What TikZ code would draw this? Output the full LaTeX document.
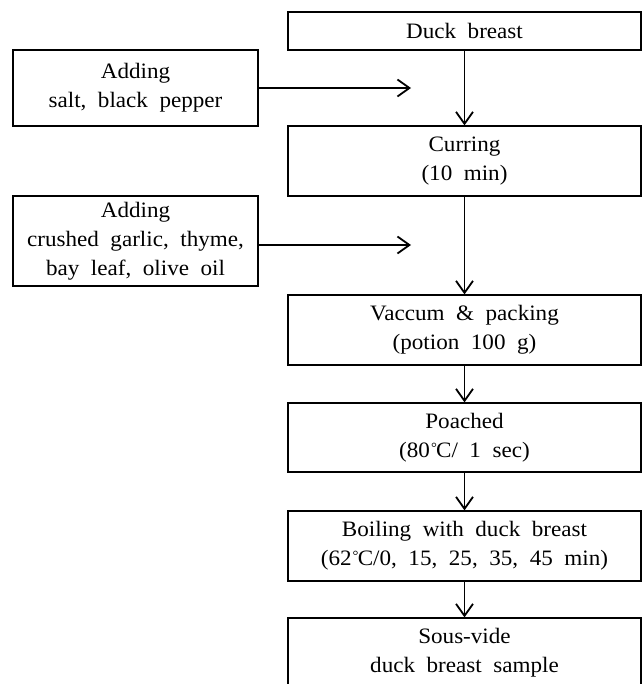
\documentclass[tikz,border=0pt]{standalone}
\usepackage{fontspec}
\setmainfont{Liberation Serif}[WordSpace=2.0,FakeStretch=1.05]
\usetikzlibrary{arrows.meta,positioning}
\tikzset{every picture/.style={line width=0.6pt}}
\tikzset{
    stepbox/.style={draw,rectangle,align=center,font=\fontsize{11pt}{14.5pt}\selectfont,minimum width=176.5pt,inner sep=0pt},
    addbox/.style={draw,rectangle,align=center,font=\fontsize{11pt}{14.5pt}\selectfont,minimum width=122.5pt,inner sep=0pt},
    flow/.style={-{Straight Barb[length=6pt,width=8.5pt]},line width=0.9pt}
}
\newcommand{\degC}{\kern0.5pt{\fontsize{7pt}{7pt}\selectfont\raisebox{2.6pt}{°}}\kern-0.4pt C}

\begin{document}
\begin{tikzpicture}[x=0.5pt,y=-0.5pt]
    \useasboundingbox (0,0) rectangle (642,684);

    % 공정 단계
    \node[stepbox,minimum height=19pt] (duck) at (464.5,31) {Duck breast};
    \node[stepbox,minimum height=35pt] (cure) at (464.5,161) {Curring\\(10 min)};
    \node[stepbox,minimum height=35pt] (vac) at (464.5,330) {Vaccum \& packing\\(potion 100 g)};
    \node[stepbox,minimum height=34.5pt] (poach) at (464.5,437.5) {Poached\\(80\degC/ 1 sec)};
    \node[stepbox,minimum height=35pt] (boil) at (464.5,546) {Boiling with duck breast\\(62\degC/0, 15, 25, 35, 45 min)};
    \node[stepbox,minimum height=35pt] (sous) at (464.5,653) {Sous-vide\\duck breast sample};

    % 첨가 재료
    \node[addbox,minimum height=38pt] (add1) at (135.5,88) {Adding\\salt, black pepper};
    \node[addbox,minimum height=45pt] (add2) at (135.5,241) {Adding\\crushed garlic, thyme,\\bay leaf, olive oil};
    \coordinate (in1) at (411,88);
    \coordinate (in2) at (411,245);

    % 화살표
    \draw[flow] (duck) -- (cure);
    \draw[flow] (cure) -- (vac);
    \draw[flow] (vac) -- (poach);
    \draw[flow] (poach) -- (boil);
    \draw[flow] (boil) -- (sous);
    \draw[flow] (add1.east) -- (in1);
    \draw[flow] (add2.east |- in2) -- (in2);
\end{tikzpicture}
\end{document}
